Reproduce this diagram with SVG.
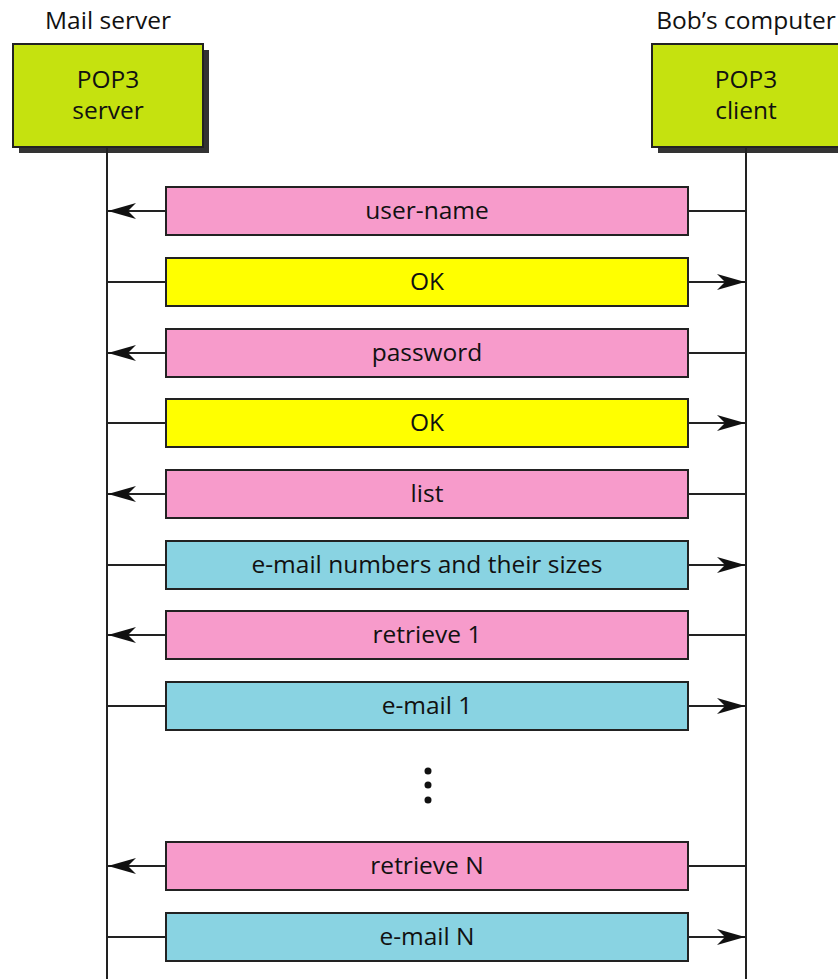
<svg xmlns="http://www.w3.org/2000/svg" width="838" height="979" viewBox="0 0 838 979">
<defs>
<style>
text{font-family:"Open Sans","Liberation Sans",sans-serif;font-size:24.5px;fill:#111;text-anchor:middle}
.node{fill:#c5e20f;stroke:#222;stroke-width:2}
.shadow{fill:#333}
.life{stroke:#222;stroke-width:2;fill:none}
.msg{stroke:#222;stroke-width:2}
.pink{fill:#f79bcb}
.yellow{fill:#ffff00}
.blue{fill:#89d3e2}
.conn{stroke:#222;stroke-width:2;fill:none}
</style>
<marker id="ah" markerWidth="28" markerHeight="18" refX="28" refY="9" orient="auto" markerUnits="userSpaceOnUse">
<path d="M0,1 L28,9 L0,17 L8,9 Z" fill="#111"/>
</marker>
</defs>
<rect width="838" height="979" fill="#fff"/>
<text x="108" y="29">Mail server</text>
<text x="746" y="29">Bob’s computer</text>
<g id="pop3-server">
<rect class="shadow" x="19" y="50" width="190" height="103"/>
<rect class="node" x="13" y="44" width="190" height="103"/>
<text x="108" y="88">POP3</text>
<text x="108" y="119">server</text>
</g>
<g id="pop3-client">
<rect class="shadow" x="658" y="50" width="190" height="103"/>
<rect class="node" x="652" y="44" width="190" height="103"/>
<text x="746" y="88">POP3</text>
<text x="746" y="119">client</text>
</g>
<g id="lifelines">
<line class="life" x1="107" y1="147" x2="107" y2="979"/>
<line class="life" x1="746" y1="147" x2="746" y2="979"/>
</g>
<g id="connectors">
<line class="conn" x1="166" y1="211" x2="108" y2="211" marker-end="url(#ah)"/>
<line class="conn" x1="688" y1="211" x2="746" y2="211"/>
<line class="conn" x1="107" y1="282" x2="166" y2="282"/>
<line class="conn" x1="688" y1="282" x2="745" y2="282" marker-end="url(#ah)"/>
<line class="conn" x1="166" y1="353" x2="108" y2="353" marker-end="url(#ah)"/>
<line class="conn" x1="688" y1="353" x2="746" y2="353"/>
<line class="conn" x1="107" y1="423" x2="166" y2="423"/>
<line class="conn" x1="688" y1="423" x2="745" y2="423" marker-end="url(#ah)"/>
<line class="conn" x1="166" y1="494" x2="108" y2="494" marker-end="url(#ah)"/>
<line class="conn" x1="688" y1="494" x2="746" y2="494"/>
<line class="conn" x1="107" y1="565" x2="166" y2="565"/>
<line class="conn" x1="688" y1="565" x2="745" y2="565" marker-end="url(#ah)"/>
<line class="conn" x1="166" y1="635" x2="108" y2="635" marker-end="url(#ah)"/>
<line class="conn" x1="688" y1="635" x2="746" y2="635"/>
<line class="conn" x1="107" y1="706" x2="166" y2="706"/>
<line class="conn" x1="688" y1="706" x2="745" y2="706" marker-end="url(#ah)"/>
<line class="conn" x1="166" y1="866" x2="108" y2="866" marker-end="url(#ah)"/>
<line class="conn" x1="688" y1="866" x2="746" y2="866"/>
<line class="conn" x1="107" y1="937" x2="166" y2="937"/>
<line class="conn" x1="688" y1="937" x2="745" y2="937" marker-end="url(#ah)"/>
</g>
<g id="m1"><rect class="msg pink" x="166" y="187" width="522" height="48"/><text x="427" y="219">user-name</text></g>
<g id="m2"><rect class="msg yellow" x="166" y="258" width="522" height="48"/><text x="427" y="290">OK</text></g>
<g id="m3"><rect class="msg pink" x="166" y="329" width="522" height="48"/><text x="427" y="361">password</text></g>
<g id="m4"><rect class="msg yellow" x="166" y="399" width="522" height="48"/><text x="427" y="431">OK</text></g>
<g id="m5"><rect class="msg pink" x="166" y="470" width="522" height="48"/><text x="427" y="502">list</text></g>
<g id="m6"><rect class="msg blue" x="166" y="541" width="522" height="48"/><text x="427" y="573">e-mail numbers and their sizes</text></g>
<g id="m7"><rect class="msg pink" x="166" y="611" width="522" height="48"/><text x="427" y="643">retrieve 1</text></g>
<g id="m8"><rect class="msg blue" x="166" y="682" width="522" height="48"/><text x="427" y="714">e-mail 1</text></g>
<g id="dots" fill="#111">
<circle cx="428" cy="771" r="3.5"/>
<circle cx="428" cy="785" r="3.5"/>
<circle cx="428" cy="800" r="3.5"/>
</g>
<g id="m9"><rect class="msg pink" x="166" y="842" width="522" height="48"/><text x="427" y="874">retrieve N</text></g>
<g id="m10"><rect class="msg blue" x="166" y="913" width="522" height="48"/><text x="427" y="945">e-mail N</text></g>
</svg>
